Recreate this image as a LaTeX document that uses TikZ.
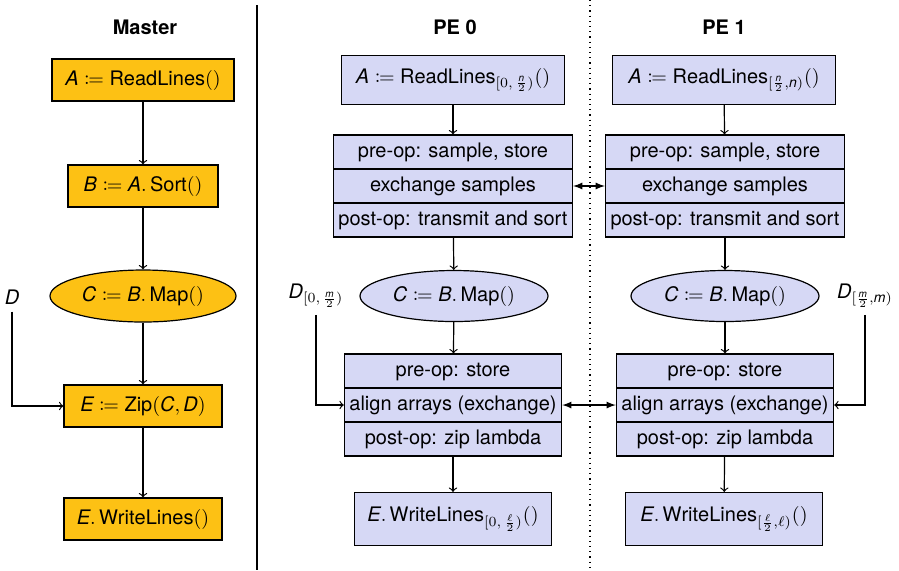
\documentclass[tikz,border=0pt]{standalone}
\usepackage{amsmath}
\usepackage{mathtools}
\usepackage{fontspec}
\setmainfont{TeX Gyre Heros}[NFSSFamily=heros]
\DeclareSymbolFont{operators}{TU}{heros}{m}{n}
\usetikzlibrary{shapes.geometric,shapes.multipart}
\definecolor{masterfill}{RGB}{253,193,20}
\definecolor{pefill}{RGB}{214,216,245}
\newcommand{\iv}[1]{\mathit{#1}}
\newcommand{\ps}{\rule[-2.5pt]{0pt}{10pt}}

\begin{document}
\begin{tikzpicture}
  [x=0.5pt,y=-0.5pt,semithick,
   mbox/.style={draw,fill=masterfill,minimum height=21pt},
   pbox/.style={draw,fill=pefill,minimum height=24.5pt},
   mell/.style={draw,ellipse,fill=masterfill,inner sep=0pt,minimum width=93pt,minimum height=26pt},
   pell/.style={draw,ellipse,fill=pefill,inner sep=0pt,minimum width=94pt,minimum height=25.5pt},
   phase/.style={draw,fill=pefill,rectangle split,rectangle split parts=3,inner xsep=2.5pt,inner ysep=3.2pt},
   title/.style={font=\bfseries}]
  \useasboundingbox (0,0) rectangle (899,570);

  % master
  \node[title] (tm) at (145,27) {Master};
  \node[mbox,minimum width=91pt] (mA) at (143,80) {$\iv{A} \coloneqq \mathrm{ReadLines}()$};
  \node[mbox,minimum width=75pt] (mB) at (143,186) {$\iv{B} \coloneqq \iv{A}.\,\mathrm{Sort}()$};
  \node[mell] (mC) at (143,296) {$\iv{C} \coloneqq \iv{B}.\,\mathrm{Map}()$};
  \node[mbox,minimum width=79pt] (mE) at (143,406) {$\iv{E} \coloneqq \mathrm{Zip}(\iv{C},\iv{D})$};
  \node[mbox,minimum width=79pt] (mW) at (143,519) {$\iv{E}.\,\mathrm{WriteLines}()$};
  \node (mD) at (12,297) {$\iv{D}$};

  \foreach \from/\to in {mA/mB,mB/mC,mC/mE,mE/mW}
    \draw[->] (\from) -- (\to);
  \draw[->] (mD) |- (mE);

  \draw (257,5) -- (257,570);
  \draw[dotted] (590,0) -- (590,570);

  % PE 0
  \node[title] (t0) at (455,27) {PE 0};
  \node[pbox,minimum width=111.5pt] (a0) at (453,80) {$\iv{A} \coloneqq \mathrm{ReadLines}_{[0,\,\frac{\iv{n}}{2})}()$};
  \node[phase] (s0) at (453,186) {\ps pre-op: sample, store\nodepart{two}\ps exchange samples\nodepart{three}\ps post-op: transmit and sort};
  \node[pell] (c0) at (454,296) {$\iv{C} \coloneqq \iv{B}.\,\mathrm{Map}()$};
  \node[phase] (z0) at (453,405) {\ps pre-op: store\nodepart{two}\ps align arrays (exchange)\nodepart{three}\ps post-op: zip lambda};
  \node[pbox,minimum width=98.5pt,minimum height=26.5pt] (w0) at (453,519) {$\iv{E}.\,\mathrm{WriteLines}_{[0,\,\frac{\ell}{2})}()$};
  \node (d0) at (316,296) {$\iv{D}_{[0,\,\frac{\iv{m}}{2})}$};

  % PE 1
  \node[title] (t1) at (724,27) {PE 1};
  \node[pbox,minimum width=111.5pt] (a1) at (724,80) {$\iv{A} \coloneqq \mathrm{ReadLines}_{[\frac{\iv{n}}{2},\iv{n})}()$};
  \node[phase] (s1) at (725,186) {\ps pre-op: sample, store\nodepart{two}\ps exchange samples\nodepart{three}\ps post-op: transmit and sort};
  \node[pell] (c1) at (725,296) {$\iv{C} \coloneqq \iv{B}.\,\mathrm{Map}()$};
  \node[phase] (z1) at (725,405) {\ps pre-op: store\nodepart{two}\ps align arrays (exchange)\nodepart{three}\ps post-op: zip lambda};
  \node[pbox,minimum width=98.5pt,minimum height=26.5pt] (w1) at (724,519) {$\iv{E}.\,\mathrm{WriteLines}_{[\frac{\ell}{2},\ell)}()$};
  \node (d1) at (865,296) {$\iv{D}_{[\frac{\iv{m}}{2},\iv{m})}$};

  \foreach \from/\to in {a0/s0,s0/c0,c0/z0,z0/w0,a1/s1,s1/c1,c1/z1,z1/w1}
    \draw[->] (\from) -- (\to);
  \draw[->] (d0) |- (z0);
  \draw[->] (d1) |- (z1);

  % exchanges
  \draw[latex-latex] (s0) -- (s1);
  \draw[latex-latex] (z0) -- (z1);

\end{tikzpicture}
\end{document}
